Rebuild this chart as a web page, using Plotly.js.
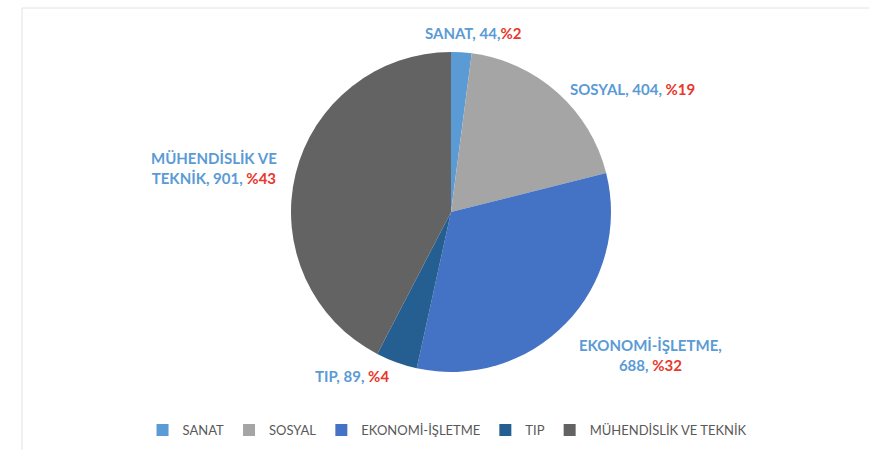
<!DOCTYPE html>
<html>
<head>
<meta charset="utf-8">
<script src="https://cdn.plot.ly/plotly-3.0.1.min.js"></script>
<style>html,body{margin:0;padding:0;background:#fff;}#chart{width:869px;height:450px;}</style>
</head>
<body>
<div id="chart"></div>
<script>
// Data
var categories = ["SANAT", "SOSYAL", "EKONOMİ-İŞLETME", "TIP", "MÜHENDİSLİK VE TEKNİK"];
var values = [44, 404, 688, 89, 901];
var pctLabels = ["%2", "%19", "%32", "%4", "%43"];
var labelNames = ["SANAT", "SOSYAL", "EKONOMİ-İŞLETME", "TIP", "MÜHENDİSLİK VE<br>TEKNİK"];
var sliceColors = ["#5B9BD5", "#A5A5A5", "#4472C4", "#255E91", "#636363"];

// Label layout (paper px from top-left)
var labelPos = [[474, 33], [632, 89], [650, 355], [352, 376], [214, 168]];
var W = 869, H = 450;
var nameColor = "#5B9BD5", pctColor = "#E8372B";

var annotations = categories.map(function (c, i) {
  var nameSep = (i === 2) ? ",<br>" : ", ";
  var pctSep = (i === 0) ? "" : " ";
  var txt = '<b><span style="color:' + nameColor + '">' + labelNames[i] + nameSep +
    values[i] + ',</span>' + pctSep +
    '<span style="color:' + pctColor + '">' + pctLabels[i] + '</span></b>';
  return {
    x: labelPos[i][0] / W, y: 1 - labelPos[i][1] / H, xref: "paper", yref: "paper",
    text: txt, showarrow: false, xanchor: "center", yanchor: "middle", align: "center",
    font: {family: "Lato, 'Open Sans', sans-serif", size: 15, color: nameColor}
  };
});

var cx = 451, cy = 212, r = 160;
var trace = {
  type: "pie",
  labels: categories,
  values: values,
  sort: false,
  direction: "clockwise",
  rotation: 0,
  textinfo: "none",
  hoverinfo: "label+value+percent",
  marker: {colors: sliceColors, line: {width: 0}},
  domain: {x: [(cx - r) / W, (cx + r) / W], y: [1 - (cy + r) / H, 1 - (cy - r) / H]}
};

var layout = {
  width: W, height: H,
  margin: {l: 0, r: 0, t: 0, b: 0},
  paper_bgcolor: "#ffffff",
  showlegend: true,
  legend: {
    orientation: "h", x: 0.515, xanchor: "center", y: 1 - 430 / H, yanchor: "middle",
    font: {family: "Lato, 'Open Sans', sans-serif", size: 13, color: "#595959"},
    itemwidth: 30, traceorder: "normal"
  },
  annotations: annotations,
  shapes: [
    {type: "line", xref: "paper", yref: "paper", x0: 22 / W, x1: 1, y0: 1 - 8 / H, y1: 1 - 8 / H,
     line: {color: "#e4e0e0", width: 1}},
    {type: "line", xref: "paper", yref: "paper", x0: 22 / W, x1: 22 / W, y0: 0, y1: 1 - 8 / H,
     line: {color: "#e4e0e0", width: 1}}
  ]
};

Plotly.newPlot("chart", [trace], layout, {staticPlot: true});
</script>
</body>
</html>
